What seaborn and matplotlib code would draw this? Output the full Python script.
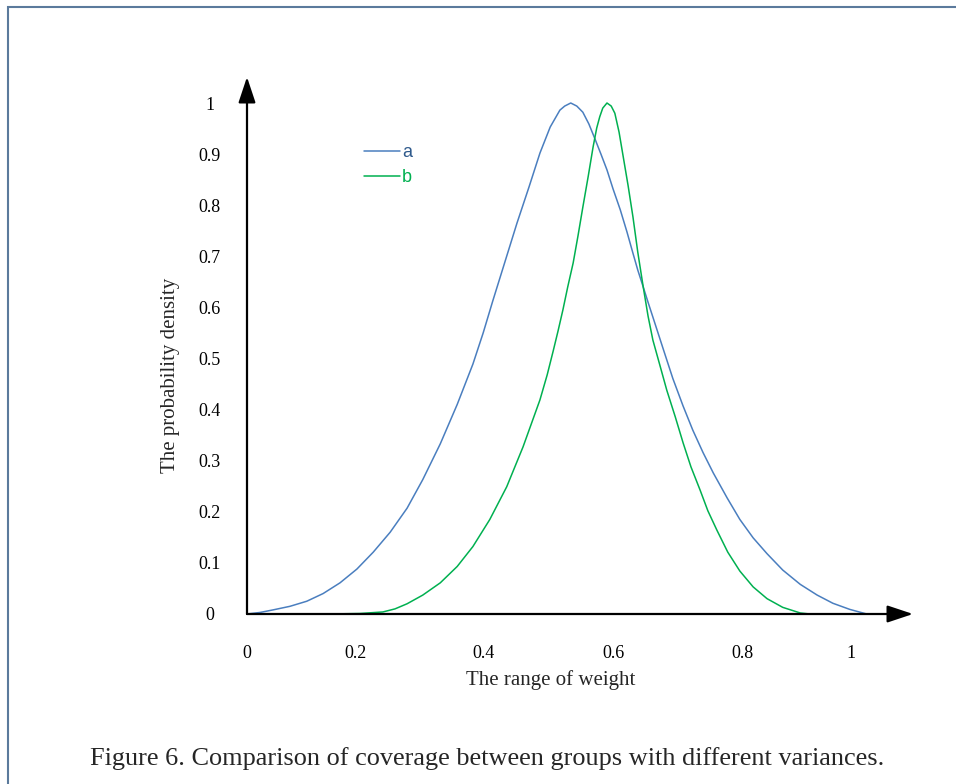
import numpy as np
import pandas as pd
import matplotlib
matplotlib.use("Agg")
import matplotlib.pyplot as plt
import seaborn as sns
from matplotlib.patches import Rectangle

# ---- data ----
a_x = [0.000, 0.0215, 0.043, 0.071, 0.099, 0.126, 0.154, 0.182, 0.209, 0.237, 0.265,
       0.291, 0.320, 0.348, 0.374, 0.391, 0.407, 0.427, 0.447, 0.467, 0.485, 0.502,
       0.518, 0.526, 0.536, 0.546, 0.556, 0.566, 0.576, 0.586, 0.596, 0.606, 0.618,
       0.629, 0.639, 0.647, 0.656, 0.664, 0.672, 0.689, 0.705, 0.722, 0.738, 0.755,
       0.772, 0.795, 0.816, 0.838, 0.861, 0.887, 0.916, 0.944, 0.970, 0.998, 1.026]
a_y = [0.000, 0.003, 0.008, 0.015, 0.025, 0.040, 0.061, 0.088, 0.121, 0.160, 0.207,
       0.263, 0.333, 0.410, 0.489, 0.550, 0.613, 0.689, 0.765, 0.836, 0.902, 0.953,
       0.986, 0.994, 1.000, 0.994, 0.982, 0.959, 0.930, 0.900, 0.869, 0.832, 0.791,
       0.748, 0.706, 0.673, 0.640, 0.610, 0.581, 0.519, 0.461, 0.407, 0.360, 0.316,
       0.276, 0.227, 0.185, 0.149, 0.118, 0.086, 0.058, 0.037, 0.021, 0.009, 0.000]

b_x = [0.137, 0.187, 0.225, 0.245, 0.265, 0.291, 0.320, 0.348, 0.374, 0.402, 0.430,
       0.457, 0.485, 0.497, 0.507, 0.515, 0.523, 0.531, 0.540, 0.548, 0.556, 0.565,
       0.573, 0.579, 0.584, 0.589, 0.596, 0.603, 0.609, 0.616, 0.623, 0.631, 0.639,
       0.647, 0.656, 0.664, 0.672, 0.684, 0.695, 0.709, 0.722, 0.735, 0.750, 0.763,
       0.778, 0.796, 0.816, 0.838, 0.861, 0.887, 0.916, 0.932]
b_y = [0.000, 0.001, 0.004, 0.010, 0.020, 0.037, 0.061, 0.093, 0.132, 0.185, 0.249,
       0.327, 0.419, 0.468, 0.515, 0.554, 0.595, 0.640, 0.687, 0.740, 0.796, 0.857,
       0.914, 0.951, 0.973, 0.990, 1.000, 0.994, 0.980, 0.943, 0.894, 0.838, 0.777,
       0.708, 0.640, 0.583, 0.536, 0.485, 0.438, 0.386, 0.335, 0.288, 0.243, 0.202,
       0.164, 0.121, 0.084, 0.053, 0.030, 0.013, 0.002, 0.000]

series_names = ["a", "b"]
x_tick_pos = [0.0, 0.179, 0.392, 0.606, 0.821, 1.0]
x_tick_labels = ["0", "0.2", "0.4", "0.6", "0.8", "1"]
y_tick_pos = [0.0, 0.1, 0.2, 0.3, 0.4, 0.5, 0.6, 0.7, 0.8, 0.9, 1.0]
y_tick_labels = ["0", "0.1", "0.2", "0.3", "0.4", "0.5", "0.6", "0.7", "0.8", "0.9", "1"]

x_label = "The range of weight"
y_label = "The probability density"
caption = "Figure 6. Comparison of coverage between groups with different variances."

df = pd.concat([
    pd.DataFrame({"x": a_x, "y": a_y, "series": series_names[0]}),
    pd.DataFrame({"x": b_x, "y": b_y, "series": series_names[1]}),
], ignore_index=True)

# ---- style ----
sns.set_style("white")
plt.rcParams["font.family"] = ["Liberation Serif", "DejaVu Serif"]

W, H = 956, 784
fig = plt.figure(figsize=(W / 100, H / 100), dpi=100)
ax = fig.add_axes([247 / W, 1 - 614 / H, (913 - 247) / W, (614 - 77) / H])

palette = {"a": "#4A7EBF", "b": "#00B050"}
sns.lineplot(data=df, x="x", y="y", hue="series", palette=palette, estimator=None,
             sort=False, linewidth=1.1, ax=ax, zorder=2)

ax.set_xlim(0, (913 - 247) / 604)
ax.set_ylim(0, (614 - 77) / 511)

for s in ax.spines.values():
    s.set_visible(False)

ax.set_xticks(x_tick_pos)
ax.set_xticklabels(x_tick_labels)
ax.set_yticks(y_tick_pos)
ax.set_yticklabels(y_tick_labels)
ax.tick_params(axis="both", length=0, labelsize=13, colors="black")
ax.tick_params(axis="x", pad=22)
ax.tick_params(axis="y", pad=27)
for lab in ax.get_yticklabels():
    lab.set_horizontalalignment("center")
ax.set_xlabel("")
ax.set_ylabel("")

# axis arrows
arrow_kw = dict(arrowstyle="-|>,head_length=1.05,head_width=0.35", color="black",
                lw=1.6, shrinkA=0, shrinkB=0, mutation_scale=15)
ax.annotate("", xy=(1, 0), xytext=(0, 0), xycoords="axes fraction",
            textcoords="axes fraction", arrowprops=arrow_kw, zorder=5,
            annotation_clip=False)
ax.annotate("", xy=(0, 1), xytext=(0, 0), xycoords="axes fraction",
            textcoords="axes fraction", arrowprops=arrow_kw, zorder=5,
            annotation_clip=False)

# legend
leg = ax.legend(loc="upper left", bbox_to_anchor=((364 - 247) / 666, (614 - 144) / 537),
                frameon=False, borderpad=0, borderaxespad=0, handlelength=2.0,
                handletextpad=0.12, labelspacing=0.45,
                prop={"family": ["Liberation Sans", "DejaVu Sans"], "size": 13})
legend_text_colors = {"a": "#2F5A8C", "b": "#00B050"}
for t, name in zip(leg.get_texts(), series_names):
    t.set_color(legend_text_colors[name])
for h in leg.get_lines():
    h.set_linewidth(1.1)

# axis titles and caption
fig.text(551 / W, 1 - 680 / H, x_label, ha="center", va="center", fontsize=15)
fig.text(171 / W, 1 - 375 / H, y_label, ha="center", va="center", fontsize=15,
         rotation=90)
fig.text(487 / W, 1 - 759 / H, caption, ha="center", va="center", fontsize=18.9)

# page frame
fig.patches.append(Rectangle((8 / W, -0.1), 1.2, 1 - 7 / H + 0.1,
                             transform=fig.transFigure, fill=False,
                             edgecolor="#5B7A9C", linewidth=1.5, zorder=0))

fig.savefig("out.png", dpi=100)
